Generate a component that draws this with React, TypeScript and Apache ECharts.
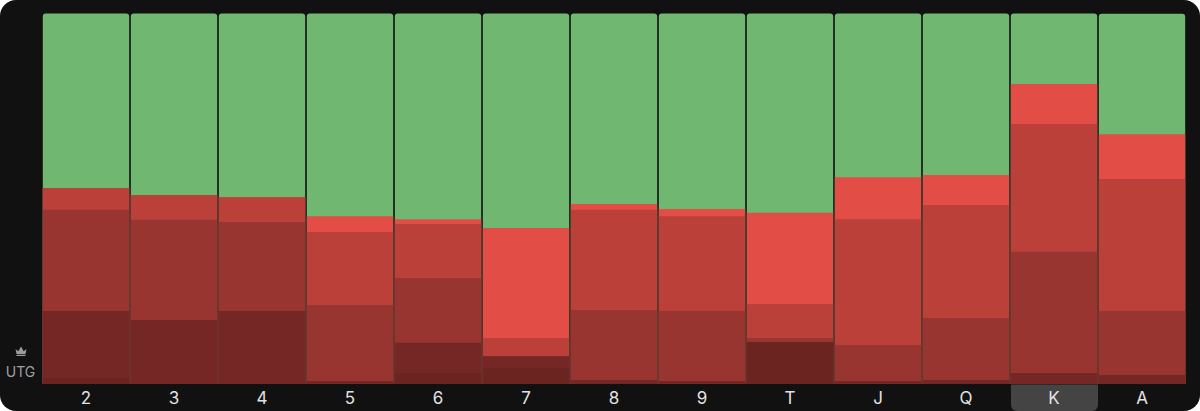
import React, { useEffect, useRef } from "react";
import * as echarts from "echarts";

const categories = ["2", "3", "4", "5", "6", "7", "8", "9", "T", "J", "Q", "K", "A"];
const deepest = [1.6, 0, 0, 0, 3.0, 4.3, 0, 0, 11.3, 0, 0, 0, 0];
const darkest = [18.1, 17.3, 19.7, 0.8, 8.1, 3.2, 1.1, 0.8, 0, 0.8, 1.1, 3.0, 2.4];
const dark = [27.3, 27.0, 24.0, 20.5, 17.5, 0, 18.9, 18.9, 1.1, 9.7, 16.7, 32.7, 17.3];
const mid = [5.9, 6.7, 6.7, 19.7, 14.6, 4.9, 27.0, 25.6, 9.2, 34.0, 30.5, 34.5, 35.6];
const bright = [0, 0, 0, 4.3, 1.3, 29.7, 1.6, 1.9, 24.6, 11.3, 8.1, 10.8, 12.1];
const green = [47.1, 49.0, 49.6, 54.7, 55.5, 57.9, 51.4, 52.8, 53.8, 44.2, 43.6, 19.0, 32.5];

const CROWN =
  "M0 3 L2.8 5.2 L5.5 0.6 L8.2 5.2 L11 3 L10 8 L1 8 Z M1 8.8 L10 8.8 L10 10 L1 10 Z";
echarts.graphic.registerShape("crownIcon", (echarts.graphic as any).extendPath(CROWN, {}));

// Each band is painted as a bar from zero up to its running total, tallest first,
// so that neighbouring bands share an edge with no seam of background between them.
const layers = [
  { name: "deepest", data: deepest, color: "#6c2421" },
  { name: "darkest", data: darkest, color: "#742724" },
  { name: "dark", data: dark, color: "#983530" },
  { name: "mid", data: mid, color: "#bb403a" },
  { name: "bright", data: bright, color: "#e24e46" },
  { name: "green", data: green, color: "#70b872" },
];
const totals = categories.map(() => 0);
const cumulative = layers.map((layer) => ({
  ...layer,
  data: layer.data.map((v, i) => {
    totals[i] = Math.round((totals[i] + v) * 10) / 10;
    return totals[i];
  }),
}));

const seriesList = cumulative
  .slice()
  .reverse()
  .map((layer) => ({
    name: layer.name,
    type: "bar" as const,
    data: layer.data,
    barWidth: 86.4,
    barGap: "-100%",
    silent: true,
    itemStyle: {
      color: layer.color,
      borderRadius: layer.name === "green" ? [3, 3, 0, 0] : 0,
    },
  }));

export default function App() {
  const ref = useRef<HTMLDivElement>(null);
  useEffect(() => {
    document.body.style.margin = "0";
    document.body.style.background = "#ffffff";
    const chart = echarts.init(ref.current!, undefined, { renderer: "svg" });
    chart.setOption({
      animation: false,
      backgroundColor: "transparent",
      grid: { left: 42, top: 13.5, width: 1144, height: 370.5 },
      xAxis: {
        type: "category",
        data: categories,
        axisLine: { show: false },
        axisTick: { show: false },
        axisLabel: {
          color: "#e2e2e2",
          fontFamily: "Inter",
          fontSize: 17,
          margin: 4,
          lineHeight: 20,
        },
      },
      yAxis: { type: "value", min: 0, max: 100, show: false },
      series: seriesList,
      graphic: [
        {
          type: "rect",
          silent: true,
          z: -1,
          shape: { x: 1011, y: 384.5, width: 87, height: 26.5, r: [0, 0, 6, 6] },
          style: { fill: "#444444" },
        },
        {
          type: "crownIcon",
          silent: true,
          x: 15.5,
          y: 346,
          scaleX: 1,
          scaleY: 1,
          style: { fill: "#9c9c9c" },
        },
        {
          type: "text",
          silent: true,
          x: 20.5,
          y: 371,
          style: {
            text: "UTG",
            fill: "#a0a0a0",
            fontFamily: "Inter",
            fontSize: 14,
            align: "center",
            verticalAlign: "middle",
          },
        },
      ],
    });
    return () => chart.dispose();
  }, []);
  return (
    <div
      style={{
        width: 1200,
        height: 411,
        background: "#111111",
        borderRadius: 16,
        overflow: "hidden",
      }}
    >
      <div ref={ref} style={{ width: 1200, height: 411 }} />
    </div>
  );
}
